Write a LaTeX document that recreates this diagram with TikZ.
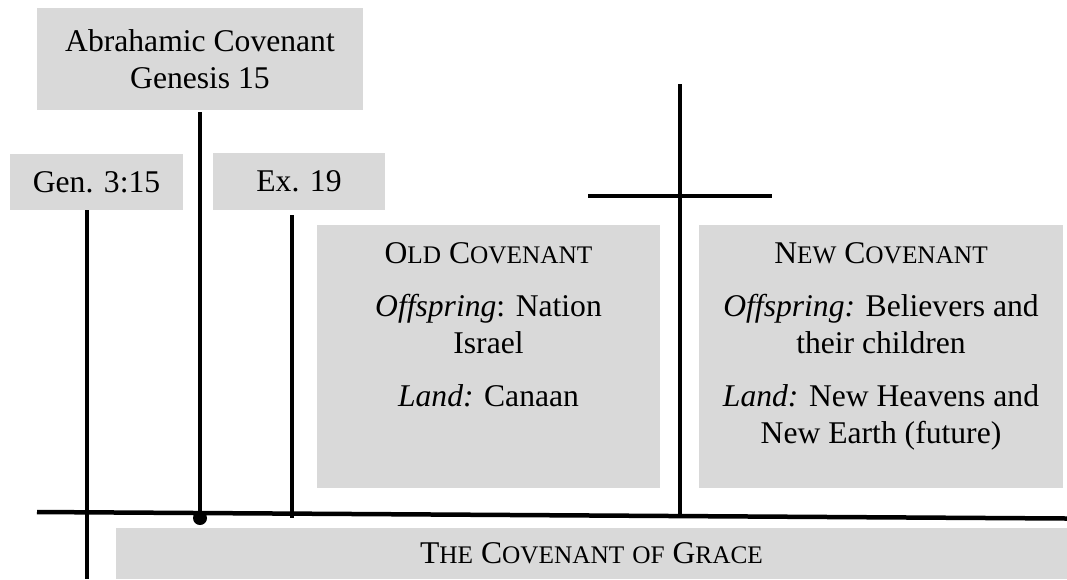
\documentclass[tikz,border=0pt]{standalone}
\usepackage{fontspec}
\setmainfont{Liberation Serif}
\usetikzlibrary{positioning}
\definecolor{panelgray}{RGB}{217,217,217}
\newcommand\smc[1]{{\fontsize{14.4}{21}\selectfont #1}}

\begin{document}
\begin{tikzpicture}
[x=0.02cm,y=-0.02cm,
every node/.style={font=\fontsize{18}{21}\selectfont},
panel/.style={fill=panelgray,inner sep=0pt},
paneltext/.style={align=center,inner sep=0pt},
bar/.style={line width=0.09cm},
seal/.style={circle,fill=black,inner sep=0pt,minimum size=0.28cm}]
\useasboundingbox (0,0) rectangle (1067,579);
\node [panel,minimum width=6.52cm,minimum height=2.04cm,align=center] (abr) at (200,59)
{Abrahamic Covenant\\Genesis 15};
\node [panel,minimum width=3.46cm,minimum height=1.12cm] (gen) at (96.5,182) {Gen. 3:15};
\node [panel,minimum width=3.44cm,minimum height=1.14cm] (ex) at (299,181.5) {Ex. 19};
\node [panel,minimum width=6.86cm,minimum height=5.26cm] (old) at (488.5,356.5) {};
\node [paneltext] (oldtxt) [below=0.36cm of old.north]
{O\smc{LD} C\smc{OVENANT}\\[9pt]
\textit{Offspring}: Nation\\Israel\\[9pt]
\textit{Land:} Canaan};
\node [panel,minimum width=7.3cm,minimum height=5.26cm] (new) at (881,356.5) {};
\node [paneltext] (newtxt) [below=0.36cm of new.north]
{N\smc{EW} C\smc{OVENANT}\\[9pt]
\textit{Offspring:} Believers and\\their children\\[9pt]
\textit{Land:} New Heavens and\\New Earth (future)};
\node [panel,minimum width=19.02cm,minimum height=1.02cm] (grace) at (591.5,553.5)
{T\smc{HE} C\smc{OVENANT} \smc{OF} G\smc{RACE}};
\node [seal] (sealdot) at (200,518) {};
\coordinate (mainL) at (37,512);
\coordinate (mainR) at (1067,518.5);
\coordinate (genfoot) at (87,579);
\coordinate (extop) at (292,215);
\coordinate (exfoot) at (292,518);
\coordinate (crosstop) at (680,84);
\coordinate (crossfoot) at (680,518);
\coordinate (armL) at (588,196);
\coordinate (armR) at (772,196);
\draw [bar] (mainL) -- (mainR);
\draw [bar] (gen.south -| genfoot) -- (genfoot);
\draw [bar] ([yshift=-0.04cm]abr.south) -- (sealdot.center);
\draw [bar] (extop) -- (exfoot);
\draw [bar] (crosstop) -- (crossfoot);
\draw [bar] (armL) -- (armR);
\end{tikzpicture}
\end{document}
